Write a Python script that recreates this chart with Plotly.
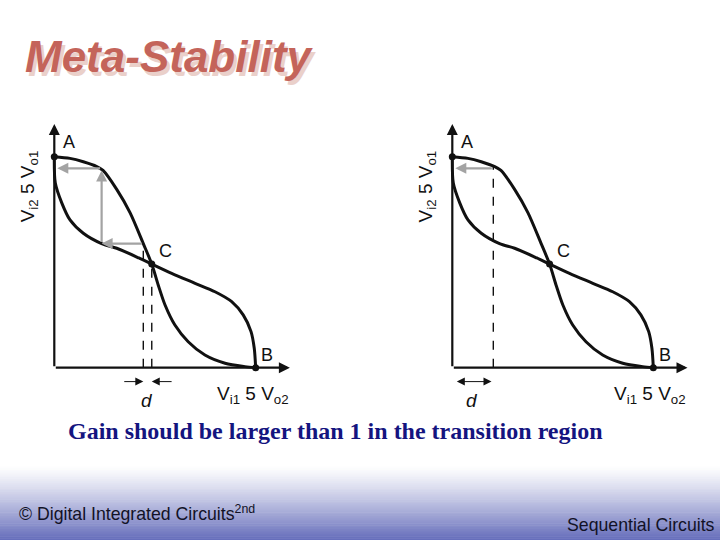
import plotly.graph_objects as go

# transfer curves (unit coords: A=(0,1), B=(1,0))
vtc1_x = [0, 0.078, 0.144, 0.211, 0.242, 0.310, 0.376, 0.442, 0.484, 0.516, 0.550, 0.599, 0.665, 0.748, 0.848, 0.947, 1.0]
vtc1_y = [1, 0.992, 0.976, 0.953, 0.935, 0.845, 0.735, 0.588, 0.491, 0.392, 0.297, 0.202, 0.123, 0.060, 0.021, 0.005, 0]
vtc2_x = [0, 0.005, 0.037, 0.078, 0.144, 0.235, 0.310, 0.420, 0.484, 0.583, 0.699, 0.798, 0.881, 0.938, 0.977, 0.993, 1.0]
vtc2_y = [1, 0.875, 0.781, 0.700, 0.637, 0.588, 0.566, 0.520, 0.491, 0.447, 0.400, 0.360, 0.313, 0.250, 0.171, 0.092, 0]

point_names = ["A", "C", "B"]
point_x = [0, 0.484, 1.0]
point_y = [1, 0.491, 0]

# left panel: start just off C, walk back to A
left_start_x = [0.442, 0.484]      # dashed lines
left_start_y = [0.588, 0.491]
left_step_x = 0.235
left_top_y = 0.945
# right panel: start further away
right_start_x = 0.204
right_start_y = 0.957

fig = go.Figure()

BLACK = "#111111"
GRAY = "#a3a3a3"
SANS = "Liberation Sans, Arial"

panels = [("x", "y", [0.0055, 0.425]), ("x2", "y2", [0.5584, 0.9772])]
for xr, yr, dom in panels:
    fig.add_trace(go.Scatter(x=vtc1_x, y=vtc1_y, xaxis=xr, yaxis=yr, mode="lines",
                             line=dict(color=BLACK, width=3, shape="spline", smoothing=0.8)))
    fig.add_trace(go.Scatter(x=vtc2_x, y=vtc2_y, xaxis=xr, yaxis=yr, mode="lines",
                             line=dict(color=BLACK, width=3, shape="spline", smoothing=0.8)))
    fig.add_trace(go.Scatter(x=point_x, y=point_y, xaxis=xr, yaxis=yr, mode="markers",
                             marker=dict(color=BLACK, size=7), cliponaxis=False))
    # axes with arrow heads
    for hx, hy in [(0, 1.155), (1.17, 0)]:
        fig.add_annotation(x=hx, y=hy, ax=0, ay=0, xref=xr, yref=yr, axref=xr, ayref=yr,
                           showarrow=True, arrowhead=2, arrowsize=1, arrowwidth=2.2,
                           arrowcolor=BLACK, text="")
    # point labels
    offs = [(0.075, 0.07), (0.068, 0.063), (0.056, 0.06)]
    for n, px, py, (dx, dy) in zip(point_names, point_x, point_y, offs):
        fig.add_annotation(x=px + dx, y=py + dy, xref=xr, yref=yr, text=n, showarrow=False,
                           font=dict(family=SANS, size=18, color=BLACK))
    fig.add_annotation(x=0.985, y=-0.13, xref=xr, yref=yr, showarrow=False,
                       text="V<sub>i1</sub> 5 V<sub>o2</sub>",
                       font=dict(family=SANS, size=19, color=BLACK))
    fig.add_annotation(x=-0.125, y=0.86, xref=xr, yref=yr, showarrow=False, textangle=-90,
                       text="V<sub>i2</sub> 5 V<sub>o1</sub>",
                       font=dict(family=SANS, size=19, color=BLACK))

# left panel construction
for sx, sy in zip(left_start_x, left_start_y):
    fig.add_shape(type="line", x0=sx, x1=sx, y0=0, y1=sy, xref="x", yref="y",
                  line=dict(color=BLACK, width=1.4, dash="dash"))
gray_arrows = [
    (left_step_x, left_start_y[0], left_start_x[0], left_start_y[0]),
    (left_step_x, left_top_y - 0.01, left_step_x, left_start_y[0]),
    (0.015, left_top_y, left_step_x, left_top_y),
]
for hx, hy, tx, ty in gray_arrows:
    fig.add_annotation(x=hx, y=hy, ax=tx, ay=ty, xref="x", yref="y", axref="x", ayref="y",
                       showarrow=True, arrowhead=2, arrowsize=1, arrowwidth=2.2,
                       arrowcolor=GRAY, text="")
fig.add_annotation(x=left_start_x[0], y=-0.066, ax=0.34, ay=-0.066, xref="x", yref="y",
                   axref="x", ayref="y", showarrow=True, arrowhead=2, arrowsize=1.6,
                   arrowwidth=1, arrowcolor=BLACK, text="")
fig.add_annotation(x=left_start_x[1], y=-0.066, ax=0.59, ay=-0.066, xref="x", yref="y",
                   axref="x", ayref="y", showarrow=True, arrowhead=2, arrowsize=1.6,
                   arrowwidth=1, arrowcolor=BLACK, text="")
fig.add_annotation(x=0.459, y=-0.155, xref="x", yref="y", text="<i>d</i>", showarrow=False,
                   font=dict(family=SANS, size=19, color=BLACK))

# right panel construction
fig.add_shape(type="line", x0=right_start_x, x1=right_start_x, y0=0, y1=right_start_y,
              xref="x2", yref="y2", line=dict(color=BLACK, width=1.4, dash="dash"))
fig.add_annotation(x=0.015, y=right_start_y - 0.012, ax=right_start_x, ay=right_start_y - 0.012,
                   xref="x2", yref="y2", axref="x2", ayref="y2", showarrow=True, arrowhead=2,
                   arrowsize=1, arrowwidth=2.2, arrowcolor=GRAY, text="")
fig.add_annotation(x=0.195, y=-0.066, ax=0.015, ay=-0.066, xref="x2", yref="y2",
                   axref="x2", ayref="y2", showarrow=True, arrowhead=2, arrowside="end+start",
                   arrowsize=1.6, arrowwidth=1, arrowcolor=BLACK, text="")
fig.add_annotation(x=0.097, y=-0.155, xref="x2", yref="y2", text="<i>d</i>", showarrow=False,
                   font=dict(family=SANS, size=19, color=BLACK))

# footer gradient
n = 40
top, bot = 466, 540
for i in range(n):
    t = (i + 0.5) / n
    t = t ** 1.2
    r = int(255 - t * (255 - 100))
    g = int(255 - t * (255 - 108))
    b = int(255 - t * (255 - 186))
    y0 = top + (bot - top) * i / n
    y1 = top + (bot - top) * (i + 1) / n + 0.5
    fig.add_shape(type="rect", xref="paper", yref="paper", x0=0, x1=1,
                  y0=1 - y1 / 540, y1=1 - y0 / 540, layer="below",
                  line=dict(width=0), fillcolor=f"rgb({r},{g},{b})")

# slide texts
def slide_text(x, y, text, size, color, family=SANS, xanchor="left"):
    fig.add_annotation(x=x / 720, y=1 - y / 540, xref="paper", yref="paper",
                       xanchor=xanchor, yanchor="middle", text=text, showarrow=False,
                       font=dict(family=family, size=size, color=color))

slide_text(26, 60, "<b><i>Meta-Stability</i></b>", 44, "#ead0ca")
slide_text(23, 57, "<b><i>Meta-Stability</i></b>", 44, "#c4645a")
slide_text(335, 431, "<b>Gain should be larger than 1 in the transition region</b>", 24,
           "#14147f", family="Liberation Serif, Times New Roman", xanchor="center")
slide_text(17, 513, "© Digital Integrated Circuits<sup>2nd</sup>", 17.7, "#121226")
slide_text(717, 525, "Sequential Circuits", 17.7, "#121226", xanchor="right")

ax_common = dict(visible=False, fixedrange=True)
fig.update_layout(
    width=720, height=540, margin=dict(l=0, r=0, t=0, b=0),
    paper_bgcolor="white", plot_bgcolor="rgba(0,0,0,0)", showlegend=False,
    xaxis=dict(domain=panels[0][2], range=[-0.25, 1.25], **ax_common),
    yaxis=dict(domain=[0.2019, 0.8075], range=[-0.3, 1.25], **ax_common),
    xaxis2=dict(domain=panels[1][2], range=[-0.25, 1.25], **ax_common),
    yaxis2=dict(domain=[0.2019, 0.8075], range=[-0.3, 1.25], anchor="x2", **ax_common),
)

fig.write_html("out.html", config={"displayModeBar": False},
               post_script="document.body.style.margin='0';document.body.style.overflow='hidden';")
